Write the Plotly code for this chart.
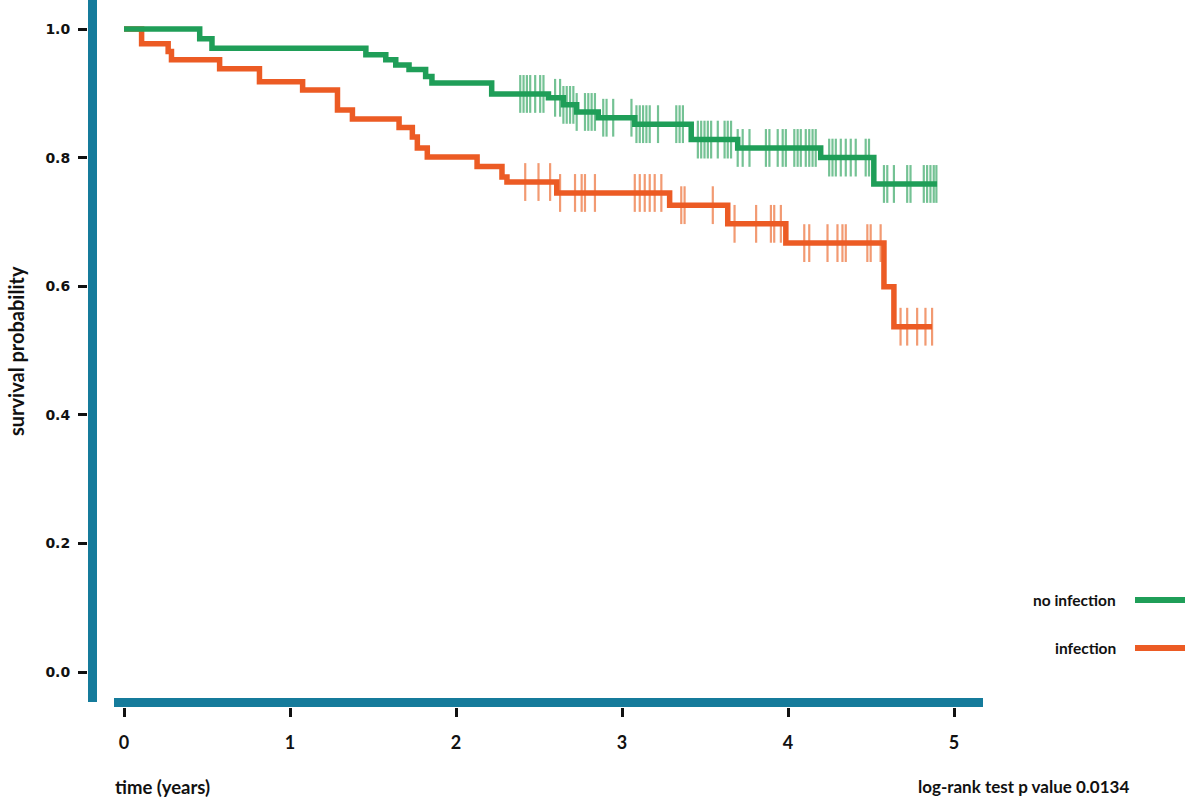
import numpy as np
import plotly.graph_objects as go

# ---- data ----
green_times = [0, 0.456, 0.53, 1.457, 1.577, 1.637, 1.717, 1.817, 1.855, 2.215, 2.557,
               2.647, 2.727, 2.857, 3.077, 3.417, 3.697, 4.197, 4.517]
green_surv = [1.0, 0.985, 0.970, 0.960, 0.952, 0.944, 0.937, 0.926, 0.916, 0.899, 0.893,
              0.882, 0.871, 0.862, 0.852, 0.828, 0.815, 0.800, 0.759]
green_end = 4.898
green_censor = [2.387, 2.407, 2.427, 2.447, 2.477, 2.507, 2.527, 2.597, 2.627, 2.647, 2.667,
                2.687, 2.707, 2.727, 2.777, 2.797, 2.817, 2.837, 2.887, 2.907, 2.947, 3.057,
                3.087, 3.107, 3.127, 3.147, 3.167, 3.217, 3.327, 3.347, 3.367, 3.457, 3.477,
                3.497, 3.517, 3.537, 3.577, 3.618, 3.637, 3.657, 3.697, 3.727, 3.768, 3.867,
                3.888, 3.938, 3.968, 3.987, 4.038, 4.058, 4.077, 4.107, 4.128, 4.148, 4.167,
                4.248, 4.268, 4.288, 4.318, 4.348, 4.378, 4.408, 4.468, 4.488, 4.578, 4.598,
                4.638, 4.718, 4.738, 4.818, 4.838, 4.858, 4.878, 4.894]

orange_times = [0, 0.106, 0.266, 0.286, 0.576, 0.816, 1.076, 1.286, 1.376, 1.657, 1.737,
                1.767, 1.827, 2.127, 2.277, 2.307, 2.607, 3.287, 3.637, 3.987, 4.578, 4.638]
orange_surv = [1.0, 0.977, 0.965, 0.952, 0.938, 0.918, 0.905, 0.874, 0.860, 0.847, 0.832,
               0.815, 0.801, 0.786, 0.770, 0.762, 0.745, 0.726, 0.697, 0.667, 0.599, 0.537]
orange_end = 4.868
orange_censor = [2.417, 2.497, 2.567, 2.627, 2.717, 2.757, 2.777, 2.837, 3.077, 3.107, 3.137,
                 3.167, 3.197, 3.237, 3.357, 3.377, 3.547, 3.678, 3.808, 3.897, 3.917, 3.957,
                 4.098, 4.128, 4.238, 4.298, 4.328, 4.348, 4.478, 4.498, 4.558, 4.678, 4.718,
                 4.778, 4.828, 4.868]

x_ticks = [0, 1, 2, 3, 4, 5]
y_ticks = [0.0, 0.2, 0.4, 0.6, 0.8, 1.0]
y_tick_labels = ["0.0", "0.2", "0.4", "0.6", "0.8", "1.0"]
series_names = ["no infection", "infection"]

# ---- styles ----
GREEN = "#1f9e58"
GREEN_TICK = "#74c294"
ORANGE = "#ec5b24"
ORANGE_TICK = "#f29a72"
AXIS_BAR = "#157b9b"
NARROW = "Lato, Roboto, sans-serif"
TXT = "#111111"

W, H = 1195, 802
ML, MR, MT, MB = 88, 212, 0, 95
PW, PH = W - ML - MR, H - MT - MB


def step_value(times, surv, t):
    idx = np.searchsorted(np.asarray(times), np.asarray(t), side="right") - 1
    return np.asarray(surv)[idx]


fig = go.Figure()

for times, surv, cens, tcol in [
    (green_times, green_surv, green_censor, GREEN_TICK),
    (orange_times, orange_surv, orange_censor, ORANGE_TICK),
]:
    fig.add_trace(go.Scatter(
        x=cens, y=step_value(times, surv, cens), mode="markers",
        marker=dict(symbol="line-ns", size=27, line=dict(width=2.2, color=tcol)),
        showlegend=False, hoverinfo="skip"))

for times, surv, end, col, name in [
    (orange_times, orange_surv, orange_end, ORANGE, series_names[1]),
    (green_times, green_surv, green_end, GREEN, series_names[0]),
]:
    fig.add_trace(go.Scatter(
        x=list(times) + [end], y=list(surv) + [surv[-1]], mode="lines",
        line=dict(shape="hv", width=5.5, color=col), name=name, showlegend=False))


def px_x(px):
    return (px - ML) / PW


def px_y(py):
    return (H - MB - py) / PH


shapes = [
    dict(type="rect", xref="paper", yref="paper", x0=px_x(88), x1=px_x(97),
         y0=px_y(702), y1=1.0, fillcolor=AXIS_BAR, line=dict(width=0), layer="below"),
    dict(type="rect", xref="paper", yref="paper", x0=px_x(114), x1=px_x(983),
         y0=px_y(707), y1=px_y(698), fillcolor=AXIS_BAR, line=dict(width=0), layer="below"),
    dict(type="line", xref="paper", yref="paper", x0=px_x(1135), x1=px_x(1185),
         y0=px_y(600), y1=px_y(600), line=dict(color=GREEN, width=6)),
    dict(type="line", xref="paper", yref="paper", x0=px_x(1135), x1=px_x(1185),
         y0=px_y(648), y1=px_y(648), line=dict(color=ORANGE, width=6)),
]

annotations = [
    dict(text="<b>" + series_names[0] + "</b>", xref="paper", yref="paper", x=px_x(1118),
         y=px_y(600), xanchor="right", yanchor="middle", showarrow=False,
         font=dict(family=NARROW, size=15.5, color=TXT)),
    dict(text="<b>" + series_names[1] + "</b>", xref="paper", yref="paper", x=px_x(1118),
         y=px_y(648), xanchor="right", yanchor="middle", showarrow=False,
         font=dict(family=NARROW, size=15.5, color=TXT)),
    dict(text="<b>time (years)</b>", xref="paper", yref="paper", x=px_x(113), y=px_y(787),
         xanchor="left", yanchor="middle", showarrow=False,
         font=dict(family=NARROW, size=18.5, color=TXT)),
    dict(text="<b>log-rank test p value 0.0134</b>", xref="paper", yref="paper",
         x=px_x(1131), y=px_y(787), xanchor="right", yanchor="middle", showarrow=False,
         font=dict(family=NARROW, size=17, color=TXT)),
    dict(text="<b>survival probability</b>", xref="paper", yref="paper", x=px_x(16),
         y=px_y(351), xanchor="center", yanchor="middle", textangle=-90, showarrow=False,
         font=dict(family=NARROW, size=20, color=TXT)),
]

fig.update_layout(
    width=W, height=H,
    margin=dict(l=ML, r=MR, t=MT, b=MB, pad=0),
    paper_bgcolor="white", plot_bgcolor="white",
    showlegend=False,
    shapes=shapes, annotations=annotations,
    xaxis=dict(range=[-0.2169, 5.1747], tickvals=x_ticks, ticks="outside", ticklen=9,
               tickwidth=3, tickcolor=TXT, showgrid=False, zeroline=False,
               showline=False, ticklabelstandoff=10,
               tickfont=dict(family=NARROW, size=18, color=TXT, weight="bold"),
               fixedrange=True),
    yaxis=dict(range=[-0.05443, 1.0451], tickvals=y_ticks, ticktext=y_tick_labels,
               ticks="outside", ticklen=9, tickwidth=3, tickcolor=TXT,
               showgrid=False, zeroline=False, showline=False, ticklabelstandoff=5,
               tickfont=dict(family="DejaVu Sans", size=14, color=TXT, weight="bold"),
               fixedrange=True),
)

fig.write_html(
    "out.html",
    config={"displayModeBar": False},
    post_script="document.body.style.margin='0';document.body.style.overflow='hidden';",
)
